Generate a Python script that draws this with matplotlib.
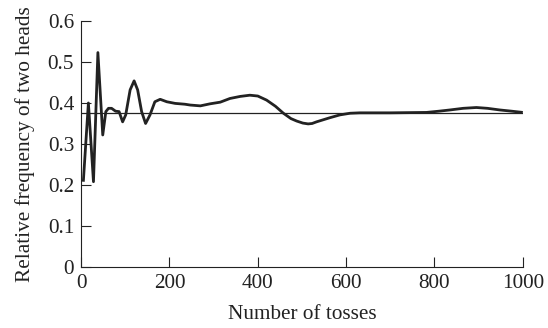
import numpy as np
import matplotlib
matplotlib.use('Agg')
import matplotlib.pyplot as plt

# values
tosses = [5, 16.5, 28, 38, 49, 56, 62, 69, 78, 86, 94, 101, 111, 120, 128, 137,
          146, 156, 167, 179, 194, 213, 235, 247, 270, 292, 315, 337, 360, 382,
          400, 420, 440, 458, 475, 488, 502, 514, 523, 533, 548, 563, 586, 609,
          631, 700, 782, 810, 835, 865, 895, 920, 948, 975, 1000]
relfreq = [0.208, 0.400, 0.208, 0.523, 0.322, 0.379, 0.387, 0.387, 0.380, 0.379,
           0.354, 0.371, 0.432, 0.454, 0.432, 0.379, 0.350, 0.371, 0.403, 0.409,
           0.403, 0.399, 0.397, 0.395, 0.393, 0.398, 0.402, 0.411, 0.416, 0.419,
           0.417, 0.407, 0.392, 0.375, 0.362, 0.356, 0.351, 0.349, 0.350, 0.354,
           0.359, 0.364, 0.371, 0.375, 0.376, 0.376, 0.377, 0.380, 0.383, 0.387,
           0.389, 0.387, 0.383, 0.380, 0.377]
true_prob = 0.375
xticks = [0, 200, 400, 600, 800, 1000]
yticks = [0, 0.1, 0.2, 0.3, 0.4, 0.5, 0.6]
ytick_labels = ['0', '0.1', '0.2', '0.3', '0.4', '0.5', '0.6']

plt.rcParams['font.family'] = ['Liberation Serif', 'DejaVu Serif']
fs = 15.3

fig = plt.figure(figsize=(5.48, 3.28), dpi=100)
ax = fig.add_axes([0.148, 0.186, 0.806, 0.750])

ax.axhline(true_prob, color='#222222', lw=0.9, zorder=2)
ax.plot(tosses, relfreq, color='#222222', lw=2.0, solid_joinstyle='round',
        solid_capstyle='butt', zorder=3)

ax.set_xlim(0, 1000)
ax.set_ylim(0, 0.6)
ax.set_xticks(xticks)
ax.set_yticks(yticks)
ax.set_yticklabels(ytick_labels)
ax.tick_params(direction='in', length=7.5, width=0.8, labelsize=fs, pad=5,
               color='#222222', labelcolor='#222222')
for side in ['top', 'right']:
    ax.spines[side].set_visible(False)
for side in ['left', 'bottom']:
    ax.spines[side].set_linewidth(0.8)
    ax.spines[side].set_color('#222222')

ax.set_xlabel('Number of tosses', fontsize=fs, color='#222222', labelpad=9)
ax.set_ylabel('Relative frequency of two heads', fontsize=fs, color='#222222',
              labelpad=9)

fig.savefig('out.png', dpi=100)
